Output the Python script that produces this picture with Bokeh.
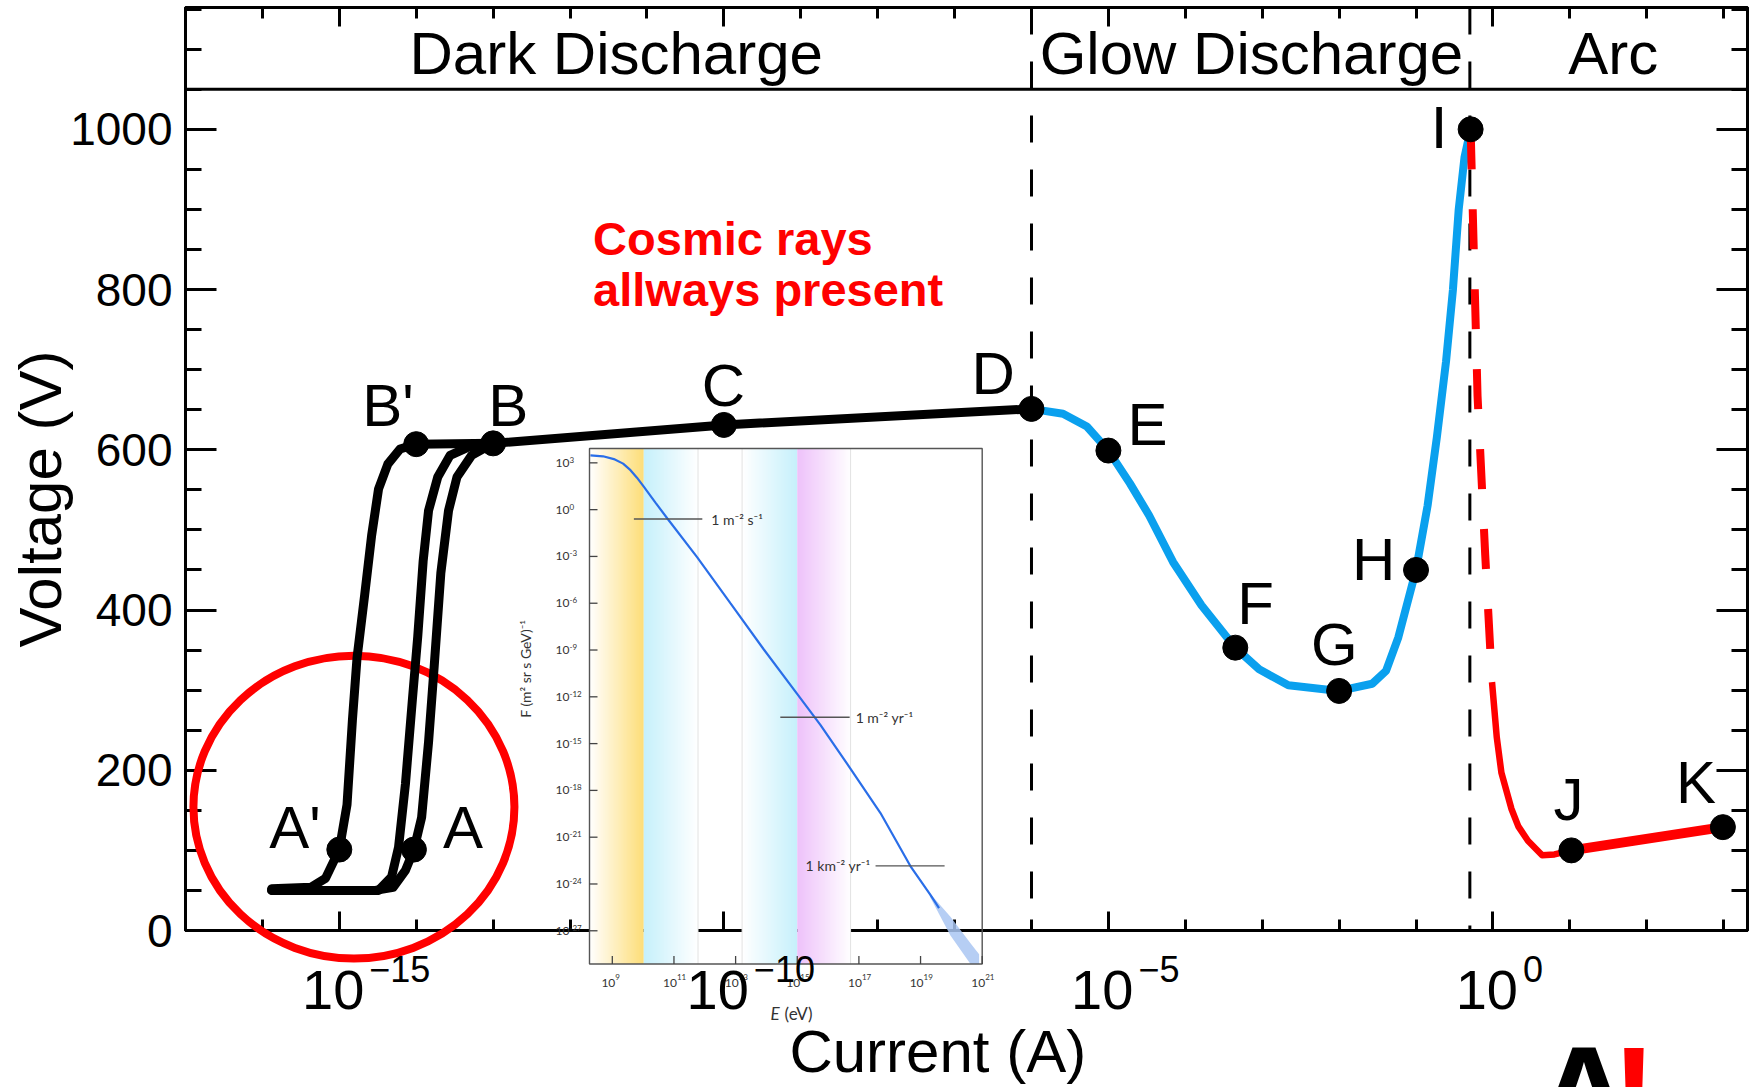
import numpy as np
from math import pi
from bokeh.plotting import figure
from bokeh.models import FixedTicker, LinearAxis, LogAxis, Span, Range1d, LinearScale
from bokeh.core.properties import value
from bokeh.embed import file_html
from bokeh.resources import INLINE

# ---------------- main chart data: log10(current / A) and voltage / V ----------------
dark_aprime_log_i = [-15.88, -15.37, -15.18, -15.0, -14.90, -14.83, -14.77, -14.67, -14.58, -14.49, -14.37, -14.21, -14.0]
dark_aprime_v = [52, 54, 65, 101, 157, 262, 340, 419, 493, 551, 582, 601, 607]

dark_mid_log_i = [-15.88, -14.49, -14.32, -14.23, -14.14, -14.05, -13.98, -13.91, -13.84, -13.72, -13.56, -13.33, -13.0]
dark_mid_v = [50, 50, 67, 104, 183, 288, 367, 461, 524, 566, 593, 603, 608]

dark_a_log_i = [-15.88, -14.53, -14.30, -14.14, -14.03, -13.93, -13.84, -13.77, -13.68, -13.58, -13.47, -13.28, -13.0]
dark_a_v = [50, 50, 54, 75, 101, 141, 235, 325, 446, 524, 566, 593, 608]

dark_top_log_i = [-14.0, -13.0, -10.0, -6.0]
dark_top_v = [607, 608, 631, 651]

glow_log_i = [-6.0, -5.59, -5.28, -5.0, -4.72, -4.47, -4.16, -3.79, -3.35, -3.04, -2.66, -2.0,
              -1.57, -1.39, -1.23, -1.0, -0.85, -0.73, -0.61, -0.52, -0.445, -0.37, -0.29]
glow_v = [651, 645, 629, 599, 558, 518, 460, 406, 353, 326, 306, 299,
          308, 324, 366, 450, 530, 615, 710, 800, 900, 965, 1000]

arc_dash_log_i = [-0.29, -0.2, -0.1, -0.012]
arc_dash_v = [1000, 667, 468, 310]
arc_fall_log_i = [-0.012, 0.05, 0.11, 0.24, 0.33, 0.455, 0.64, 0.8, 1.02]
arc_fall_v = [310, 241, 197, 152, 130, 112, 94, 95, 100]
arc_log_i = [1.02, 2.99]
arc_v = [100, 129]

point_names = ["A'", "A", "B'", "B", "C", "D", "E", "F", "G", "H", "I", "J", "K"]
point_log_i = [-15.0, -14.03, -14.0, -13.0, -10.0, -6.0, -5.0, -3.35, -2.0, -1.0, -0.29, 1.02, 2.99]
point_v = [101, 101, 607, 608, 631, 651, 599, 353, 299, 450, 1000, 100, 129]
label_dx = [-70, 29, -54, -5, -22, -60, 19, 2, -28, -64, -40, -18, -47]
label_dy = [0, 0, -16, -16, -17, -13, -4, -22, -24, 12, 20, -29, -22]

region_names = ["Dark Discharge", "Glow Discharge", "Arc"]
region_label_log_i = [-11.40, -3.14, 1.565]
region_bounds_log_i = [-6.0, -0.3]
band_v = 1050

x_major_exp = [-15, -10, -5, 0]
x_major_sup = ["\u221215", "\u221210", "\u22125", "0"]
y_major = [0, 200, 400, 600, 800, 1000]

# ---------------- inset: cosmic-ray flux, log10(E / eV) and log10(F) ----------------
inset_log_e = [8.29, 8.7, 9.05, 9.35, 9.59, 9.8, 10.02, 10.4, 10.78, 11.75, 12.83, 13.91, 14.99,
               15.75, 16.62, 17.70, 18.67, 19.32, 19.6]
inset_log_f = [3.48, 3.42, 3.24, 2.95, 2.53, 2.05, 1.47, 0.45, -0.55, -3.04, -6.0, -8.95, -11.8,
               -13.8, -16.3, -19.45, -22.85, -24.7, -25.55]
fan_log_e = [19.3, 19.97, 20.62, 20.9]
fan_upper = [-24.6, -26.1, -27.8, -28.5]
fan_lower = [-24.8, -27.3, -29.13, -29.13]

inset_e_ticks = [9, 11, 13, 15, 17, 19, 21]
inset_f_ticks = [3, 0, -3, -6, -9, -12, -15, -18, -21, -24, -27]

band_lo = [8.26, 10.02, 13.21, 15.0]
band_hi = [10.02, 11.78, 15.0, 16.73]
band_rgb = [(253, 222, 120), (198, 240, 251), (198, 240, 251), (238, 194, 250)]
band_solid_side = ["right", "left", "right", "left"]
faint_lines_log_e = [11.78, 13.21, 16.73]

flux_names = ["1 m\u207b\u00b2 s\u207b\u00b9", "1 m\u207b\u00b2 yr\u207b\u00b9", "1 km\u207b\u00b2 yr\u207b\u00b9"]
flux_log_f = [-0.60, -13.31, -22.84]
flux_line_lo = [9.70, 14.45, 17.54]
flux_line_hi = [11.92, 16.70, 19.78]

# ---------------- layout constants (pixels) ----------------
W, H = 1752, 1087
FL, FR, FT, FB = 185, 1747, 7, 930
X_LO, X_HI = -17.0, 3.31
Y_LO, Y_HI = 0, 1152
INSET_PX = (589, 981.7, 448, 963.5)          # left, right, top, bottom
INSET_DATA = (8.26, 21.0, -29.13, 3.92)       # logE lo/hi, logF lo/hi
BL = 0.37                                     # baseline correction (fraction of font size)

FONT = value("Liberation Sans")
IFONT = value("Lato")
BLUE = "#0aa0ee"
RED = "#ff0000"

p = figure(width=W, height=H, x_axis_type="log",
           x_range=Range1d(10 ** X_LO, 10 ** X_HI), y_range=Range1d(Y_LO, Y_HI),
           output_backend="svg", toolbar_location=None,
           min_border_left=FL, min_border_right=W - FR, min_border_top=FT, min_border_bottom=H - FB)
p.background_fill_color = "white"
p.border_fill_color = "white"
p.outline_line_color = "black"
p.outline_line_width = 3
p.grid.visible = False

x_ticker = FixedTicker(ticks=[10.0 ** e for e in x_major_exp], minor_ticks=[10.0 ** k for k in range(-17, 4)])
y_ticker = FixedTicker(ticks=y_major, minor_ticks=list(range(0, 1151, 50)))


def style_axis(ax, major_in, minor_in, labels):
    ax.ticker = x_ticker if major_in < 25 else y_ticker
    ax.axis_line_width = 3
    ax.major_tick_in = major_in
    ax.major_tick_out = 0
    ax.minor_tick_in = minor_in
    ax.minor_tick_out = 0
    ax.major_tick_line_width = 3
    ax.minor_tick_line_width = 3
    if labels:
        ax.major_label_text_font = "Liberation Sans"
        ax.major_label_text_font_size = "46px"
        ax.major_label_text_color = "black"
        ax.major_label_standoff = 13
    else:
        ax.major_label_text_font_size = "1px"
        ax.major_label_text_alpha = 0
        ax.major_label_standoff = 1


style_axis(p.xaxis[0], 19, 11, False)
style_axis(p.yaxis[0], 31, 16, True)
top_ax = LogAxis()
right_ax = LinearAxis()
style_axis(top_ax, 19, 11, False)
style_axis(right_ax, 31, 16, False)
p.add_layout(top_ax, "above")
p.add_layout(right_ax, "right")

# region separators
p.add_layout(Span(location=band_v, dimension="width", line_color="black", line_width=3))
for b in region_bounds_log_i:
    p.add_layout(Span(location=10 ** b, dimension="height", line_color="black",
                      line_width=3, line_dash="27 27"))

p.text(x=[10 ** v for v in region_label_log_i], y=[1067] * 3, text=region_names, y_offset=-BL * 60,
       text_align="center", text_baseline="alphabetic", text_font=FONT,
       text_font_size="60px", text_color="black")

# ---------------- inset ----------------
ipx_l, ipx_r, ipx_t, ipx_b = INSET_PX
ie_lo, ie_hi, if_lo, if_hi = INSET_DATA
sx = (ipx_r - ipx_l) / (ie_hi - ie_lo)
sy = (ipx_b - ipx_t) / (if_hi - if_lo)
p.extra_x_ranges = {"inset": Range1d(ie_lo - (ipx_l - FL) / sx, ie_lo + (FR - ipx_l) / sx)}
p.extra_y_ranges = {"inset": Range1d(if_lo + (ipx_b - FB) / sy, if_hi + (ipx_t - FT) / sy)}
p.extra_x_scales = {"inset": LinearScale()}
p.extra_y_scales = {"inset": LinearScale()}
IN = dict(x_range_name="inset", y_range_name="inset", level="overlay")


def gradient_image(rgb, solid_side, n=96):
    t = np.linspace(0.0, 1.0, n)
    w = t if solid_side == "right" else 1.0 - t
    img = np.empty((1, n), dtype=np.uint32)
    view = img.view(dtype=np.uint8).reshape((1, n, 4))
    for k in range(3):
        view[0, :, k] = np.round(255 + (rgb[k] - 255) * w).astype(np.uint8)
    view[0, :, 3] = 255
    return img


for lo, hi, rgb, side in zip(band_lo, band_hi, band_rgb, band_solid_side):
    p.image_rgba(image=[gradient_image(rgb, side)], x=lo, y=if_lo, dw=hi - lo, dh=if_hi - if_lo, **IN)

p.segment(x0=faint_lines_log_e, y0=[if_lo] * 3, x1=faint_lines_log_e, y1=[if_hi] * 3,
          line_color="#e2e2e2", line_width=1, **IN)
p.varea(x=fan_log_e, y1=fan_lower, y2=fan_upper, fill_color="#a9c6f2", fill_alpha=0.85, **IN)
p.line(x=inset_log_e, y=inset_log_f, line_color="#2a6ee8", line_width=2.2, **IN)
p.quad(left=[ie_lo], right=[ie_hi], bottom=[if_lo], top=[if_hi], fill_color=None,
       line_color="#555555", line_width=1.4, **IN)
p.segment(x0=inset_e_ticks, y0=[if_lo] * 7, x1=inset_e_ticks, y1=[if_lo + 8 / sy] * 7,
          line_color="#444444", line_width=1.3, **IN)
p.segment(x0=[ie_lo] * 11, y0=inset_f_ticks, x1=[ie_lo + 8 / sx] * 11, y1=inset_f_ticks,
          line_color="#444444", line_width=1.3, **IN)
p.segment(x0=flux_line_lo, y0=flux_log_f, x1=flux_line_hi, y1=flux_log_f,
          line_color="#555555", line_width=1.3, **IN)
p.text(x=[flux_line_hi[0], flux_line_hi[1], flux_line_lo[2]], y=flux_log_f, text=flux_names,
       x_offset=[9, 6, -5], text_align=["left", "left", "right"], text_baseline="middle",
       text_font=IFONT, text_font_size="14px", text_color="#333333", **IN)
# inset tick labels
p.text(x=[ie_lo] * 11, y=inset_f_ticks, text=["10"] * 11, x_offset=-34, text_align="left",
       text_baseline="middle", text_font=IFONT, text_font_size="12px", text_color="#333333", **IN)
p.text(x=[ie_lo] * 11, y=inset_f_ticks, text=[str(v) for v in inset_f_ticks], x_offset=-20,
       text_align="left", text_baseline="bottom", text_font=IFONT, text_font_size="8px",
       text_color="#333333", **IN)
p.text(x=inset_e_ticks, y=[if_lo] * 7, text=["10"] * 7, x_offset=3, y_offset=23 - BL * 12,
       text_align="right", text_baseline="alphabetic", text_font=IFONT, text_font_size="12px",
       text_color="#333333", **IN)
p.text(x=inset_e_ticks, y=[if_lo] * 7, text=[str(v) for v in inset_e_ticks], x_offset=3,
       y_offset=16 - BL * 8, text_align="left", text_baseline="alphabetic", text_font=IFONT,
       text_font_size="8px", text_color="#333333", **IN)
p.text(x=[14.13], y=[if_lo], text=["E"], y_offset=56 - BL * 17, text_align="left",
       text_baseline="alphabetic", text_font=IFONT, text_font_style="italic", text_font_size="17px",
       text_color="#333333", **IN)
p.text(x=[14.59], y=[if_lo], text=["(eV)"], y_offset=56 - BL * 17, text_align="left",
       text_baseline="alphabetic", text_font=IFONT, text_font_size="17px", text_color="#333333", **IN)
p.text(x=[ie_lo], y=[-10.19], text=["F (m\u00b2 sr s GeV)\u207b\u00b9"], x_offset=-64, angle=pi / 2,
       text_align="center", text_baseline="middle", text_font=IFONT, text_font_size="14px",
       text_color="#333333", **IN)

# ---------------- main curves ----------------
OV = dict(level="overlay")
p.ellipse(x=[10 ** -14.81], y=[154], width=321, height=303, width_units="screen", height_units="screen",
          fill_color=None, line_color=RED, line_width=8, **OV)

p.line(x=[10 ** v for v in glow_log_i], y=glow_v, line_color=BLUE, line_width=8, line_join="round", **OV)
p.line(x=[10 ** v for v in arc_dash_log_i], y=arc_dash_v, line_color=RED, line_width=8,
       line_dash="40 40", **OV)
p.line(x=[10 ** v for v in arc_fall_log_i], y=arc_fall_v, line_color=RED, line_width=6.5,
       line_join="round", **OV)
p.line(x=[10 ** v for v in arc_log_i], y=arc_v, line_color=RED, line_width=10, **OV)

for xs, ys in [(dark_aprime_log_i, dark_aprime_v), (dark_mid_log_i, dark_mid_v),
               (dark_a_log_i, dark_a_v), (dark_top_log_i, dark_top_v)]:
    p.line(x=[10 ** v for v in xs], y=ys, line_color="black", line_width=9,
           line_join="round", line_cap="round", **OV)

p.scatter(x=[10 ** v for v in point_log_i], y=point_v, size=25, marker="circle",
          fill_color="black", line_color="black", **OV)
p.text(x=[10 ** v for v in point_log_i], y=point_v, text=point_names, x_offset=label_dx,
       y_offset=[d - BL * 60 for d in label_dy],
       text_align="left", text_baseline="alphabetic", text_font=FONT, text_font_size="60px",
       text_color="black", **OV)

p.text(x=[10 ** -11.70] * 2, y=[842.5, 778.8], text=["Cosmic rays", "allways present"],
       y_offset=-BL * 47, text_align="left", text_baseline="alphabetic", text_font=FONT,
       text_font_style="bold", text_font_size="47px", text_color=RED, **OV)

# x tick labels (10 with superscript exponent), axis titles
p.text(x=[10.0 ** e for e in x_major_exp], y=[0] * 4, text=["10"] * 4, x_offset=25, y_offset=80 - BL * 56,
       text_align="right", text_baseline="alphabetic", text_font=FONT, text_font_size="56px",
       text_color="black", **OV)
p.text(x=[10.0 ** e for e in x_major_exp], y=[0] * 4, text=x_major_sup, x_offset=30,
       y_offset=52 - BL * 36, text_align="left", text_baseline="alphabetic", text_font=FONT,
       text_font_size="36px", text_color="black", **OV)
p.text(x=[10 ** -7.11], y=[0], text=["Current  (A)"], y_offset=143 - BL * 60, text_align="center",
       text_baseline="alphabetic", text_font=FONT, text_font_size="60px", text_color="black", **OV)
p.text(x=[10 ** X_LO], y=[549], text=["Voltage  (V)"], x_offset=-145, angle=pi / 2,
       text_align="center", text_baseline="middle", text_font=FONT, text_font_size="60px",
       text_color="black", **OV)

# partial mark at bottom edge
p.text(x=[1.0, 1.0], y=[0, 0], text=["A", "!"], x_offset=[91, 141], y_offset=214 - BL * 135,
       text_align="center", text_baseline="alphabetic", text_font=FONT, text_font_style="bold",
       text_font_size="135px", text_color=["black", RED], **OV)

open("out.html", "w").write(file_html(p, INLINE))
